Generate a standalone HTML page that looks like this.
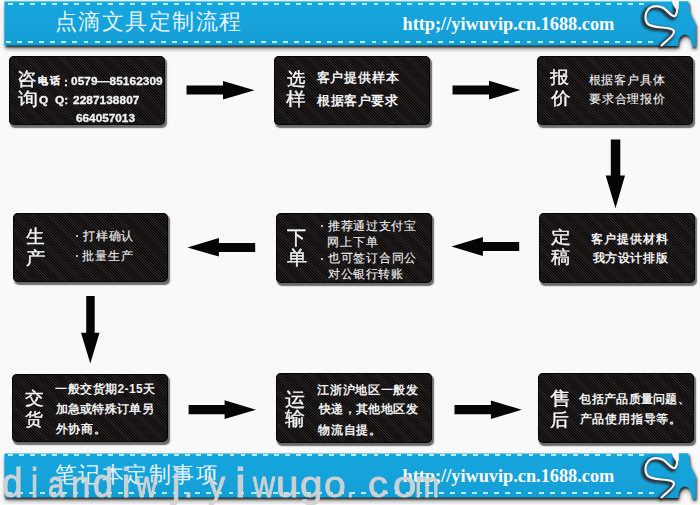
<!DOCTYPE html>
<html><head><meta charset="utf-8">
<style>
*{margin:0;padding:0;box-sizing:border-box}
html,body{width:700px;height:505px;overflow:hidden;background:#faf9fa;font-family:"Liberation Sans",sans-serif}
.abs{position:absolute}
.banner{position:absolute;left:5px;width:650px;height:44.5px;background:#12a3dc;box-shadow:0 2px 3px rgba(20,30,35,.65)}
.dash{position:absolute;height:2px;background:repeating-linear-gradient(90deg,#b2f0fc 0 4.9px,transparent 4.9px 11.076px)}
.htitle{position:absolute;left:55px;top:7px;font-size:22px;letter-spacing:1.45px;color:#e2f4fb;white-space:nowrap;font-weight:300}
.url{position:absolute;left:402.5px;top:13.5px;font-family:"Liberation Serif",serif;font-weight:bold;font-size:18.3px;color:#fff;white-space:nowrap}
.box{position:absolute;border-radius:5px;overflow:hidden;
 background:repeating-linear-gradient(45deg,#0b0909 0 0.6px,#2b2626 0.85px 1.45px,#0b0909 1.7px 2px);
 box-shadow:inset 0 0 0 1px rgba(0,0,0,.85),1.6px 2.4px 1.2px rgba(70,70,70,.8)}
.tx{position:absolute;white-space:nowrap;color:#f2f2f2;line-height:1}
.tx.big{-webkit-text-stroke:0.35px #f4f4f4;color:#f6f6f6}
.tx.n{font-family:"Liberation Sans",sans-serif;-webkit-text-stroke:0.3px #f2f2f2}
#b1c{-webkit-text-stroke:0.3px #f2f2f2}
.dot{position:absolute;width:2.2px;height:2.2px;border-radius:50%;background:#f0f0f0}
.wm{position:absolute;left:0;top:464.3px;width:700px;height:41px;font-size:39px;line-height:39px;color:rgba(212,212,212,.95);font-family:"Liberation Sans",sans-serif}
.wm span{position:absolute;top:0;transform-origin:0 32.7px;-webkit-text-stroke:0.9px rgba(210,210,210,.95)}
</style></head><body>

<!-- top banner -->
<div class="abs" style="left:4px;top:0;width:672px;height:1.5px;background:#d9f6fc"></div>
<svg class="abs" style="left:0;top:0px" width="700" height="52" viewBox="0 0 700 52">
 <defs><filter id="sh0" x="-5%" y="-20%" width="110%" height="170%"><feGaussianBlur in="SourceAlpha" stdDeviation="1.3" result="b1"/><feOffset in="b1" dx="1" dy="2" result="o1"/><feComponentTransfer in="o1" result="c1"><feFuncA type="linear" slope="0.85"/></feComponentTransfer><feGaussianBlur in="SourceAlpha" stdDeviation="2.6" result="b2"/><feOffset in="b2" dx="1" dy="3.5" result="o2"/><feComponentTransfer in="o2" result="c2"><feFuncA type="linear" slope="0.35"/></feComponentTransfer><feMerge><feMergeNode in="c2"/><feMergeNode in="c1"/><feMergeNode in="SourceGraphic"/></feMerge></filter>
 <filter id="bl0" x="-10%" y="-10%" width="120%" height="120%"><feGaussianBlur stdDeviation="1.1"/></filter><filter id="wb0" x="-10%" y="-10%" width="120%" height="120%"><feGaussianBlur stdDeviation="0.45"/></filter>
 <linearGradient id="bg0" x1="0" y1="0" x2="0" y2="1"><stop offset="0" stop-color="#16a6de"/><stop offset="1" stop-color="#119ed6"/></linearGradient></defs>
 <g filter="url(#sh0)" fill="url(#bg0)">
  <path d="M4.4,1.5 H677 C677.5,7 677.5,14 675,16 C672,17.5 668,11 663.5,8 C659,5.5 652,5 648.5,9 C645,13 644.5,19 647,23 C649.5,26.5 656,27 662,27.5 C668,28 673.5,28.5 674,31.5 C674.5,35.5 667,40 661,46 L660,45.3 L4.4,45.3 Z"/>
  <path d="M677,1.2 C677.5,7 677.5,14 675,16 C672,17.5 668,11 663.5,8 C659,5.5 652,5 648.5,9 C645,13 644.5,19 647,23 C649.5,26.5 656,27 662,27.5 C668,28 673.5,28.5 674,31.5 C674.5,35.5 667,40 661,46 L678,46 C678,38 681.5,34.5 685,34.5 C689,34.5 691.5,39 692,46.5 L695.5,46.5 L695.5,24 L689.5,12 L688.5,1.2 Z"/>
 </g>
 <path d="M677,1 C677.5,7 677.5,14 675,16 C672,17.5 668,11 663.5,8 C659,5.5 652,5 648.5,9 C645,13 644.5,19 647,23 C649.5,26.5 656,27 662,27.5 C668,28 673.5,28.5 674,31.5 C674.5,35.5 667,40 661,46" fill="none" stroke="#2a2e31" stroke-opacity=".95" stroke-width="5" filter="url(#bl0)" transform="translate(-1.8,1.4)"/>
 <path d="M677,1 C677.5,7 677.5,14 675,16 C672,17.5 668,11 663.5,8 C659,5.5 652,5 648.5,9 C645,13 644.5,19 647,23 C649.5,26.5 656,27 662,27.5 C668,28 673.5,28.5 674,31.5 C674.5,35.5 667,40 661,46" fill="none" stroke="#f2f6f8" stroke-width="2.2" filter="url(#wb0)"/>
 <path d="M671.5,0 L679,0 L678.6,9 L676.5,10 L673,5 Z" fill="#f7f8f9"/>
</svg>
<div class="dash" style="top:2.7px;left:7.6px;width:636.5px"></div>
<div class="dash" style="top:40.6px;left:6.1px;width:648px"></div>
<div class="htitle">点滴文具定制流程</div>
<div class="url">http;//yiwuvip.cn.1688.com</div>

<!-- bottom banner -->
<svg class="abs" style="left:0;top:452px" width="700" height="52" viewBox="0 0 700 52">
 <defs><filter id="sh452" x="-5%" y="-20%" width="110%" height="170%"><feGaussianBlur in="SourceAlpha" stdDeviation="1.3" result="b1"/><feOffset in="b1" dx="1" dy="2" result="o1"/><feComponentTransfer in="o1" result="c1"><feFuncA type="linear" slope="0.85"/></feComponentTransfer><feGaussianBlur in="SourceAlpha" stdDeviation="2.6" result="b2"/><feOffset in="b2" dx="1" dy="3.5" result="o2"/><feComponentTransfer in="o2" result="c2"><feFuncA type="linear" slope="0.35"/></feComponentTransfer><feMerge><feMergeNode in="c2"/><feMergeNode in="c1"/><feMergeNode in="SourceGraphic"/></feMerge></filter>
 <filter id="bl452" x="-10%" y="-10%" width="120%" height="120%"><feGaussianBlur stdDeviation="1.1"/></filter><filter id="wb452" x="-10%" y="-10%" width="120%" height="120%"><feGaussianBlur stdDeviation="0.45"/></filter>
 <linearGradient id="bg452" x1="0" y1="0" x2="0" y2="1"><stop offset="0" stop-color="#16a6de"/><stop offset="1" stop-color="#119ed6"/></linearGradient></defs>
 <g filter="url(#sh452)" fill="url(#bg452)">
  <path d="M4.4,1.5 H677 C677.5,7 677.5,14 675,16 C672,17.5 668,11 663.5,8 C659,5.5 652,5 648.5,9 C645,13 644.5,19 647,23 C649.5,26.5 656,27 662,27.5 C668,28 673.5,28.5 674,31.5 C674.5,35.5 667,40 661,46 L660,45.3 L4.4,45.3 Z"/>
  <path d="M677,1.2 C677.5,7 677.5,14 675,16 C672,17.5 668,11 663.5,8 C659,5.5 652,5 648.5,9 C645,13 644.5,19 647,23 C649.5,26.5 656,27 662,27.5 C668,28 673.5,28.5 674,31.5 C674.5,35.5 667,40 661,46 L678,46 C678,38 681.5,34.5 685,34.5 C689,34.5 691.5,39 692,46.5 L695.5,46.5 L695.5,24 L689.5,12 L688.5,1.2 Z"/>
 </g>
 <path d="M677,1 C677.5,7 677.5,14 675,16 C672,17.5 668,11 663.5,8 C659,5.5 652,5 648.5,9 C645,13 644.5,19 647,23 C649.5,26.5 656,27 662,27.5 C668,28 673.5,28.5 674,31.5 C674.5,35.5 667,40 661,46" fill="none" stroke="#2a2e31" stroke-opacity=".95" stroke-width="5" filter="url(#bl452)" transform="translate(-1.8,1.4)"/>
 <path d="M677,1 C677.5,7 677.5,14 675,16 C672,17.5 668,11 663.5,8 C659,5.5 652,5 648.5,9 C645,13 644.5,19 647,23 C649.5,26.5 656,27 662,27.5 C668,28 673.5,28.5 674,31.5 C674.5,35.5 667,40 661,46" fill="none" stroke="#f2f6f8" stroke-width="2.2" filter="url(#wb452)"/>
 <path d="M671.5,0 L679,0 L678.6,9 L676.5,10 L673,5 Z" fill="#f7f8f9"/>
</svg>
<div class="dash" style="top:454.2px;left:8.2px;width:636px"></div>
<div class="dash" style="top:492.4px;left:6.8px;width:647px"></div>
<div class="htitle" style="top:460px">笔记本定制事项</div>
<div class="url" style="top:465.7px">http;//yiwuvip.cn.1688.com</div>

<!-- boxes -->
<div class="box" style="left:9.4px;top:56px;width:155.6px;height:69.0px"></div>
<div class="box" style="left:274.2px;top:55.8px;width:155.9px;height:69.3px"></div>
<div class="box" style="left:537.4px;top:55.8px;width:155.7px;height:69.5px"></div>
<div class="box" style="left:13.2px;top:213.1px;width:154.9px;height:69.2px"></div>
<div class="box" style="left:276.2px;top:213.2px;width:155.9px;height:69.6px"></div>
<div class="box" style="left:539.2px;top:213.2px;width:155.6px;height:70.1px"></div>
<div class="box" style="left:12.3px;top:373.5px;width:155.5px;height:68.6px"></div>
<div class="box" style="left:276.2px;top:373.4px;width:155.9px;height:69.2px"></div>
<div class="box" style="left:538.2px;top:373.4px;width:155.9px;height:69.2px"></div>

<!-- bullets -->
<div class="dot" style="left:75.6px;top:234.8px"></div>
<div class="dot" style="left:75.6px;top:254.8px"></div>
<div class="dot" style="left:321px;top:225.1px"></div>
<div class="dot" style="left:321px;top:257.5px"></div>

<div id="b1a" class="tx big" style="left:16.58px;top:69.83px;font-size:18.07px;font-weight:500;letter-spacing:0.00px;transform:scaleX(1.088);transform-origin:0 0">咨</div>
<div id="b1b" class="tx big" style="left:18.29px;top:90.75px;font-size:17.62px;font-weight:500;letter-spacing:0.00px;transform:scaleX(1.114);transform-origin:0 0">询</div>
<div id="b1c" class="tx" style="left:38.26px;top:76.43px;font-size:9.53px;font-weight:700;letter-spacing:1.81px">电话</div>
<div id="b1c2" class="tx n" style="left:64.38px;top:77.56px;font-size:10.20px;font-weight:700;letter-spacing:0.00px;transform:scaleX(1.160);transform-origin:0 0">:</div>
<div id="b1d" class="tx n" style="left:71.28px;top:76.96px;font-size:10.20px;font-weight:700;letter-spacing:0.07px;transform:scaleX(1.160);transform-origin:0 0">0579—85162309</div>
<div id="b1e" class="tx n" style="left:38.71px;top:96.15px;font-size:10.20px;font-weight:700;letter-spacing:0.00px;transform:scaleX(1.160);transform-origin:0 0">Q</div>
<div id="b1f" class="tx n" style="left:54.71px;top:96.15px;font-size:10.20px;font-weight:700;letter-spacing:0.00px;transform:scaleX(1.160);transform-origin:0 0">Q:</div>
<div id="b1g" class="tx n" style="left:73.01px;top:96.26px;font-size:10.20px;font-weight:700;letter-spacing:0.06px;transform:scaleX(1.160);transform-origin:0 0">2287138807</div>
<div id="b1h" class="tx n" style="left:75.77px;top:113.56px;font-size:10.20px;font-weight:700;letter-spacing:-0.02px;transform:scaleX(1.160);transform-origin:0 0">664057013</div>
<div id="b2a" class="tx big" style="left:286.58px;top:70.04px;font-size:18.23px;font-weight:500;letter-spacing:0.00px;transform:scaleX(1.030);transform-origin:0 0">选</div>
<div id="b2b" class="tx big" style="left:286.35px;top:90.33px;font-size:18.47px;font-weight:500;letter-spacing:0.00px;transform:scaleX(1.085);transform-origin:0 0">样</div>
<div id="b2c" class="tx" style="left:316.56px;top:70.80px;font-size:13.00px;font-weight:700;letter-spacing:0.82px">客户提供样本</div>
<div id="b2d" class="tx" style="left:317.38px;top:94.20px;font-size:13.00px;font-weight:700;letter-spacing:0.47px">根据客户要求</div>
<div id="b3a" class="tx big" style="left:549.69px;top:69.42px;font-size:17.20px;font-weight:500;letter-spacing:0.00px;transform:scaleX(1.121);transform-origin:0 0">报</div>
<div id="b3b" class="tx big" style="left:550.67px;top:90.02px;font-size:16.98px;font-weight:500;letter-spacing:0.00px;transform:scaleX(1.158);transform-origin:0 0">价</div>
<div id="b3c" class="tx" style="left:588.67px;top:74.23px;font-size:12.00px;font-weight:400;letter-spacing:0.84px;-webkit-text-stroke:0.12px #eeeeee">根据客户具体</div>
<div id="b3d" class="tx" style="left:589.09px;top:93.25px;font-size:12.00px;font-weight:400;letter-spacing:0.77px;-webkit-text-stroke:0.12px #eeeeee">要求合理报价</div>
<div id="b4a" class="tx big" style="left:26.19px;top:227.48px;font-size:19.18px;font-weight:500;letter-spacing:0.00px;transform:scaleX(0.982);transform-origin:0 0">生</div>
<div id="b4b" class="tx big" style="left:25.53px;top:249.61px;font-size:17.91px;font-weight:500;letter-spacing:0.00px;transform:scaleX(1.069);transform-origin:0 0">产</div>
<div id="b4d" class="tx" style="left:83.40px;top:230.18px;font-size:12.00px;font-weight:400;letter-spacing:0.63px;-webkit-text-stroke:0.12px #eeeeee">打样确认</div>
<div id="b4f" class="tx" style="left:82.49px;top:249.60px;font-size:12.00px;font-weight:400;letter-spacing:0.78px;-webkit-text-stroke:0.12px #eeeeee">批量生产</div>
<div id="b5a" class="tx big" style="left:286.72px;top:228.71px;font-size:18.79px;font-weight:500;letter-spacing:0.00px;transform:scaleX(1.004);transform-origin:0 0">下</div>
<div id="b5b" class="tx big" style="left:286.63px;top:249.16px;font-size:18.91px;font-weight:500;letter-spacing:0.00px;transform:scaleX(1.059);transform-origin:0 0">单</div>
<div id="b5c" class="tx" style="left:328.29px;top:220.39px;font-size:12.00px;font-weight:400;letter-spacing:0.56px;-webkit-text-stroke:0.12px #eeeeee">推荐通过支付宝</div>
<div id="b5d" class="tx" style="left:327.33px;top:236.36px;font-size:12.00px;font-weight:400;letter-spacing:0.90px;-webkit-text-stroke:0.12px #eeeeee">网上下单</div>
<div id="b5e" class="tx" style="left:327.76px;top:252.41px;font-size:12.00px;font-weight:400;letter-spacing:0.78px;-webkit-text-stroke:0.12px #eeeeee">也可签订合同公</div>
<div id="b5f" class="tx" style="left:328.38px;top:267.58px;font-size:12.00px;font-weight:400;letter-spacing:0.45px;-webkit-text-stroke:0.12px #eeeeee">对公银行转账</div>
<div id="b6a" class="tx big" style="left:551.46px;top:229.31px;font-size:17.19px;font-weight:500;letter-spacing:0.00px;transform:scaleX(1.172);transform-origin:0 0">定</div>
<div id="b6b" class="tx big" style="left:550.82px;top:247.63px;font-size:18.35px;font-weight:500;letter-spacing:0.00px;transform:scaleX(1.065);transform-origin:0 0">稿</div>
<div id="b6c" class="tx" style="left:591.39px;top:232.52px;font-size:12.00px;font-weight:700;letter-spacing:0.95px">客户提供材料</div>
<div id="b6d" class="tx" style="left:592.62px;top:251.53px;font-size:12.00px;font-weight:700;letter-spacing:0.60px">我方设计排版</div>
<div id="b7a" class="tx big" style="left:25.29px;top:390.43px;font-size:17.27px;font-weight:500;letter-spacing:0.00px;transform:scaleX(1.105);transform-origin:0 0">交</div>
<div id="b7b" class="tx big" style="left:24.91px;top:410.77px;font-size:17.41px;font-weight:500;letter-spacing:0.00px;transform:scaleX(1.051);transform-origin:0 0">货</div>
<div id="b7c" class="tx" style="left:55.35px;top:383.12px;font-size:12.00px;font-weight:700;letter-spacing:0.41px">一般交货期2-15天</div>
<div id="b7d" class="tx" style="left:55.51px;top:403.11px;font-size:12.00px;font-weight:700;letter-spacing:0.33px">加急或特殊订单另</div>
<div id="b7e" class="tx" style="left:55.64px;top:422.57px;font-size:12.00px;font-weight:700;letter-spacing:0.79px">外协商。</div>
<div id="b8a" class="tx big" style="left:284.77px;top:390.19px;font-size:19.03px;font-weight:500;letter-spacing:0.00px;transform:scaleX(1.069);transform-origin:0 0">运</div>
<div id="b8b" class="tx big" style="left:284.88px;top:409.04px;font-size:19.31px;font-weight:500;letter-spacing:0.00px;transform:scaleX(1.050);transform-origin:0 0">输</div>
<div id="b8c" class="tx" style="left:317.31px;top:383.83px;font-size:12.00px;font-weight:700;letter-spacing:0.66px">江浙沪地区一般发</div>
<div id="b8d" class="tx" style="left:318.69px;top:403.18px;font-size:12.00px;font-weight:700;letter-spacing:0.42px">快递，其他地区发</div>
<div id="b8e" class="tx" style="left:318.10px;top:423.51px;font-size:12.00px;font-weight:700;letter-spacing:0.77px">物流自提。</div>
<div id="b9a" class="tx big" style="left:549.71px;top:388.92px;font-size:19.02px;font-weight:500;letter-spacing:0.00px;transform:scaleX(1.111);transform-origin:0 0">售</div>
<div id="b9b" class="tx big" style="left:549.64px;top:411.01px;font-size:18.37px;font-weight:500;letter-spacing:0.00px;transform:scaleX(1.050);transform-origin:0 0">后</div>
<div id="b9c" class="tx" style="left:579.49px;top:392.62px;font-size:12.00px;font-weight:700;letter-spacing:0.27px">包括产品质量问题、</div>
<div id="b9d" class="tx" style="left:579.71px;top:412.65px;font-size:12.00px;font-weight:700;letter-spacing:0.76px">产品使用指导等。</div>

<!-- arrows -->
<svg class="abs" style="left:0;top:0" width="700" height="505" viewBox="0 0 700 505">
 <g fill="#050505">
  <path d="M186.5 85.5H223V81L254.5 90.3L223 99.5V94.5H186.5Z"/>
  <path d="M452.5 85.4H489V80.7L520.4 90.1L489 99.5V94.5H452.5Z"/>
  <path d="M610.8 139.6H620.3V175.5H625L615.5 208.3L605.7 175.5H610.8Z"/>
  <path d="M255.2 242.9H218.9V238L187.4 247.4L218.9 256.6V252H255.2Z"/>
  <path d="M519.2 241.9H482.9V237.1L451.4 246.4L482.9 256V250.9H519.2Z"/>
  <path d="M86.2 296H94.7V332.7H99.5L90.3 363.4L81 332.7H86.2Z"/>
  <path d="M188.6 405.1H224.6V400.3L256 409.7L224.6 419.1V414.2H188.6Z"/>
  <path d="M454.5 405.1H490.9V400.5L521.7 409.7L490.9 419.1V414.2H454.5Z"/>
 </g>
</svg>

<div class="wm"><span style="left:1.86px;transform:scale(0.949,1.06)">d</span><span style="left:30.63px;transform:scale(0.815,1.06)">i</span><span style="left:48.25px;transform:scale(0.754,0.95)">a</span><span style="left:70.52px;transform:scale(0.894,0.95)">n</span><span style="left:93.49px;transform:scale(0.930,1.06)">d</span><span style="left:121.69px;transform:scale(0.976,1.06)">i</span><span style="left:135.92px;transform:scale(0.754,0.95)">w</span><span style="left:171.70px;transform:scale(1.000,1.06)">j</span><span style="left:184.40px;transform:scale(0.823,0.95)">.</span><span style="left:207.71px;transform:scale(0.882,0.95)">y</span><span style="left:235.20px;transform:scale(1.250,1.06)">i</span><span style="left:252.72px;transform:scale(0.781,0.95)">w</span><span style="left:275.62px;transform:scale(1.038,0.95)">u</span><span style="left:300.05px;transform:scale(1.038,0.95)">g</span><span style="left:324.00px;transform:scale(1.000,0.95)">o</span><span style="left:346.96px;transform:scale(0.599,0.95)">.</span><span style="left:367.92px;transform:scale(1.015,0.95)">c</span><span style="left:392.70px;transform:scale(1.077,0.95)">o</span><span style="left:414.70px;transform:scale(0.738,0.95)">m</span></div>
</body></html>
